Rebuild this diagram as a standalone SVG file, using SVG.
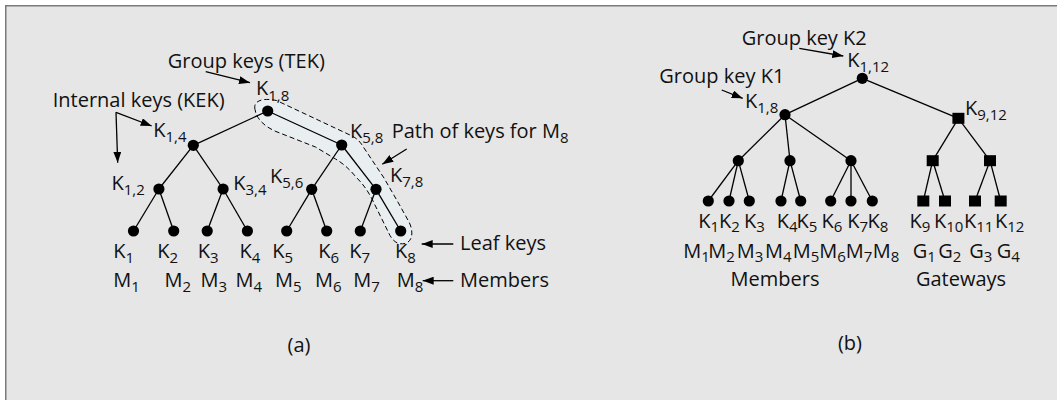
<svg xmlns="http://www.w3.org/2000/svg" width="1057" height="400" viewBox="0 0 1057 400">
<style>
text{font-family:"Open Sans","Noto Sans","Liberation Sans",sans-serif;font-size:20px;fill:#111}
.s{font-size:15px}
.e{stroke:#000;stroke-width:1.3;fill:none}
.a{stroke:#000;stroke-width:1.3;fill:none;marker-end:url(#ah)}
.d{fill:#000}
</style>
<defs>
<marker id="ah" markerWidth="11" markerHeight="8" refX="11" refY="4" orient="auto" markerUnits="userSpaceOnUse"><path d="M0,0 L11,4 L0,8 Z" fill="#000"/></marker>
</defs>
<rect x="0" y="0" width="1057" height="400" fill="#fff"/>
<rect x="5" y="5" width="1052" height="395" fill="#e6e6e6"/>
<path d="M5.75,400 V5.75 H1057" fill="none" stroke="#7a7a7a" stroke-width="1.5"/>

<g id="path-highlight">
<path d="M255,109.5 C253,101 262,97.5 276.5,100.5 L351,135.5 C356.5,138 360,141.5 363,146.5 L384,178 L399,204 L409,222 C413.5,231 413,241.5 405,243.5 C398,245 393.5,241.5 390,235.5 L372.5,200 C367.5,190 362.5,183.5 355.5,176.5 C349.5,169 342.5,163 335.5,159 L315.5,147 L276,131.5 C264.5,126.5 256.5,119 255,109.5 Z" fill="#e9eef1" stroke="#000" stroke-width="1" stroke-dasharray="5,3"/>
</g>

<g id="connectors">
<line class="e" x1="267.7" y1="111" x2="193.3" y2="145.3"/>
<line class="e" x1="267.7" y1="111" x2="341.7" y2="145"/>
<line class="e" x1="193.3" y1="145.3" x2="158.9" y2="189"/>
<line class="e" x1="193.3" y1="145.3" x2="223.1" y2="189"/>
<line class="e" x1="341.7" y1="145" x2="311.7" y2="189.3"/>
<line class="e" x1="341.7" y1="145" x2="376" y2="189.3"/>
<line class="e" x1="158.9" y1="189" x2="133.5" y2="231"/>
<line class="e" x1="158.9" y1="189" x2="173.7" y2="231"/>
<line class="e" x1="223.1" y1="189" x2="207.2" y2="231"/>
<line class="e" x1="223.1" y1="189" x2="247.4" y2="231"/>
<line class="e" x1="311.7" y1="189.3" x2="286.7" y2="231"/>
<line class="e" x1="311.7" y1="189.3" x2="326.7" y2="231"/>
<line class="e" x1="376" y1="189.3" x2="360.3" y2="231"/>
<line class="e" x1="376" y1="189.3" x2="400.7" y2="231"/>

<line class="a" x1="205.7" y1="71.7" x2="250" y2="82.7"/>
<line class="a" x1="116" y1="112.3" x2="151.7" y2="126"/>
<line class="a" x1="116" y1="112.3" x2="117.7" y2="162.7"/>
<line class="a" x1="406.7" y1="149" x2="382.3" y2="164.3"/>
<line class="a" x1="453.3" y1="244" x2="421.7" y2="244"/>
<line class="a" x1="453.3" y1="280.7" x2="422.7" y2="280.7"/>

<line class="e" x1="862.3" y1="78.3" x2="785" y2="114.7"/>
<line class="e" x1="862.3" y1="78.3" x2="958.4" y2="118.3"/>
<line class="e" x1="785" y1="114.7" x2="738.3" y2="160.7"/>
<line class="e" x1="785" y1="114.7" x2="790" y2="160.7"/>
<line class="e" x1="785" y1="114.7" x2="851" y2="160.7"/>
<line class="e" x1="958.4" y1="118.3" x2="932.7" y2="160.7"/>
<line class="e" x1="958.4" y1="118.3" x2="990" y2="160.7"/>
<line class="e" x1="738.3" y1="160.7" x2="708.3" y2="201"/>
<line class="e" x1="738.3" y1="160.7" x2="729" y2="201"/>
<line class="e" x1="738.3" y1="160.7" x2="749.3" y2="201"/>
<line class="e" x1="790" y1="160.7" x2="781" y2="201"/>
<line class="e" x1="790" y1="160.7" x2="800.7" y2="201"/>
<line class="e" x1="851" y1="160.7" x2="830.7" y2="201"/>
<line class="e" x1="851" y1="160.7" x2="851" y2="201"/>
<line class="e" x1="851" y1="160.7" x2="872.3" y2="201"/>
<line class="e" x1="932.7" y1="160.7" x2="923.3" y2="201"/>
<line class="e" x1="932.7" y1="160.7" x2="945" y2="201"/>
<line class="e" x1="990" y1="160.7" x2="975" y2="201"/>
<line class="e" x1="990" y1="160.7" x2="1000.7" y2="201"/>

<line class="a" x1="799.3" y1="48.3" x2="843.3" y2="56"/>
<line class="a" x1="721.7" y1="90" x2="742.7" y2="98.3"/>
</g>

<!-- Panel (a) -->
<g id="a-labels">
<text x="167.7" y="68.3">Group keys (TEK)</text>
<text x="52.7" y="106.7">Internal keys (KEK)</text>
<text x="391.7" y="138.3">Path of keys for M<tspan class="s" dy="5">8</tspan></text>
<text x="460" y="250">Leaf keys</text>
<text x="460" y="286.7">Members</text>
<text x="299" y="351.7" text-anchor="middle">(a)</text>
</g>
<g id="a-k18"><circle class="d" cx="267.7" cy="111" r="5.6"/><text x="256" y="95">K<tspan class="s" dy="6">1,8</tspan></text></g>
<g id="a-k14"><circle class="d" cx="193.3" cy="145.3" r="5.6"/><text x="153.3" y="137.3">K<tspan class="s" dy="5">1,4</tspan></text></g>
<g id="a-k58"><circle class="d" cx="341.7" cy="145" r="5.6"/><text x="350" y="138.3">K<tspan class="s" dy="5">5,8</tspan></text></g>
<g id="a-k12"><circle class="d" cx="158.9" cy="189" r="5.6"/><text x="111.5" y="189.5">K<tspan class="s" dy="5">1,2</tspan></text></g>
<g id="a-k34"><circle class="d" cx="223.1" cy="189" r="5.6"/><text x="233.2" y="190">K<tspan class="s" dy="5">3,4</tspan></text></g>
<g id="a-k56"><circle class="d" cx="311.7" cy="189.3" r="5.6"/><text x="270" y="183.3">K<tspan class="s" dy="5">5,6</tspan></text></g>
<g id="a-k78"><circle class="d" cx="376" cy="189.3" r="5.6"/><text x="390" y="181.7">K<tspan class="s" dy="5">7,8</tspan></text></g>
<g id="a-k1"><circle class="d" cx="133.5" cy="231" r="5.6"/><text x="113.2" y="258.3">K<tspan class="s" dy="5">1</tspan></text><text x="113.2" y="286.7">M<tspan class="s" dy="5">1</tspan></text></g>
<g id="a-k2"><circle class="d" cx="173.7" cy="231" r="5.6"/><text x="157.2" y="258.3">K<tspan class="s" dy="5">2</tspan></text><text x="164.6" y="286.7">M<tspan class="s" dy="5">2</tspan></text></g>
<g id="a-k3"><circle class="d" cx="207.2" cy="231" r="5.6"/><text x="197.7" y="258.3">K<tspan class="s" dy="5">3</tspan></text><text x="200.5" y="286.7">M<tspan class="s" dy="5">3</tspan></text></g>
<g id="a-k4"><circle class="d" cx="247.4" cy="231" r="5.6"/><text x="239.5" y="258.3">K<tspan class="s" dy="5">4</tspan></text><text x="235.6" y="286.7">M<tspan class="s" dy="5">4</tspan></text></g>
<g id="a-k5"><circle class="d" cx="286.7" cy="231" r="5.6"/><text x="272.3" y="258.3">K<tspan class="s" dy="5">5</tspan></text><text x="275" y="286.7">M<tspan class="s" dy="5">5</tspan></text></g>
<g id="a-k6"><circle class="d" cx="326.7" cy="231" r="5.6"/><text x="318.3" y="258.3">K<tspan class="s" dy="5">6</tspan></text><text x="315" y="286.7">M<tspan class="s" dy="5">6</tspan></text></g>
<g id="a-k7"><circle class="d" cx="360.3" cy="231" r="5.6"/><text x="349.3" y="258.3">K<tspan class="s" dy="5">7</tspan></text><text x="353.3" y="286.7">M<tspan class="s" dy="5">7</tspan></text></g>
<g id="a-k8"><circle class="d" cx="400.7" cy="231" r="5.6"/><text x="395" y="258.3">K<tspan class="s" dy="5">8</tspan></text><text x="396.7" y="286.7">M<tspan class="s" dy="5">8</tspan></text></g>

<!-- Panel (b) -->
<g id="b-labels">
<text x="741.7" y="45">Group key K2</text>
<text x="659.3" y="83.3">Group key K1</text>
<text x="775" y="286" text-anchor="middle">Members</text>
<text x="961" y="286" text-anchor="middle">Gateways</text>
<text x="850" y="350" text-anchor="middle">(b)</text>
</g>
<g id="b-k112"><circle class="d" cx="862.3" cy="78.3" r="5.6"/><text x="847.3" y="66.5">K<tspan class="s" dy="5">1,12</tspan></text></g>
<g id="b-k18"><circle class="d" cx="785" cy="114.7" r="5.6"/><text x="745" y="108.3">K<tspan class="s" dy="5">1,8</tspan></text></g>
<g id="b-k912"><rect class="d" x="952.4" y="112.8" width="12" height="11"/><text x="965" y="115">K<tspan class="s" dy="5">9,12</tspan></text></g>
<g id="b-m1"><circle class="d" cx="738.3" cy="160.7" r="5.6"/></g>
<g id="b-m2"><circle class="d" cx="790" cy="160.7" r="5.6"/></g>
<g id="b-m3"><circle class="d" cx="851" cy="160.7" r="5.6"/></g>
<g id="b-g1"><rect class="d" x="926.7" y="155.2" width="12" height="11"/></g>
<g id="b-g2"><rect class="d" x="984" y="155.2" width="12" height="11"/></g>
<g id="b-k1"><circle class="d" cx="708.3" cy="201" r="5.6"/><text x="698.3" y="228.3">K<tspan class="s" dy="4">1</tspan></text><text x="683.3" y="258.3">M<tspan class="s" dy="4">1</tspan></text></g>
<g id="b-k2"><circle class="d" cx="729" cy="201" r="5.6"/><text x="719" y="228.3">K<tspan class="s" dy="4">2</tspan></text><text x="708.3" y="258.3">M<tspan class="s" dy="4">2</tspan></text></g>
<g id="b-k3"><circle class="d" cx="749.3" cy="201" r="5.6"/><text x="744" y="228.3">K<tspan class="s" dy="4">3</tspan></text><text x="736.7" y="258.3">M<tspan class="s" dy="4">3</tspan></text></g>
<g id="b-k4"><circle class="d" cx="781" cy="201" r="5.6"/><text x="776.7" y="228.3">K<tspan class="s" dy="4">4</tspan></text><text x="765" y="258.3">M<tspan class="s" dy="4">4</tspan></text></g>
<g id="b-k5"><circle class="d" cx="800.7" cy="201" r="5.6"/><text x="796.5" y="228.3">K<tspan class="s" dy="4">5</tspan></text><text x="792.7" y="258.3">M<tspan class="s" dy="4">5</tspan></text></g>
<g id="b-k6"><circle class="d" cx="830.7" cy="201" r="5.6"/><text x="821.5" y="228.3">K<tspan class="s" dy="4">6</tspan></text><text x="819.3" y="258.3">M<tspan class="s" dy="4">6</tspan></text></g>
<g id="b-k7"><circle class="d" cx="851" cy="201" r="5.6"/><text x="847.3" y="228.3">K<tspan class="s" dy="4">7</tspan></text><text x="845.8" y="258.3">M<tspan class="s" dy="4">7</tspan></text></g>
<g id="b-k8"><circle class="d" cx="872.3" cy="201" r="5.6"/><text x="867.5" y="228.3">K<tspan class="s" dy="4">8</tspan></text><text x="872.7" y="258.3">M<tspan class="s" dy="4">8</tspan></text></g>
<g id="b-k9"><rect class="d" x="917.3" y="195.5" width="12" height="11"/><text x="909.5" y="228.3">K<tspan class="s" dy="4">9</tspan></text><text x="912.7" y="258.3">G<tspan class="s" dy="4">1</tspan></text></g>
<g id="b-k10"><rect class="d" x="939" y="195.5" width="12" height="11"/><text x="934" y="228.3">K<tspan class="s" dy="4">10</tspan></text><text x="938.3" y="258.3">G<tspan class="s" dy="4">2</tspan></text></g>
<g id="b-k11"><rect class="d" x="969" y="195.5" width="12" height="11"/><text x="964" y="228.3">K<tspan class="s" dy="4">11</tspan></text><text x="969.3" y="258.3">G<tspan class="s" dy="4">3</tspan></text></g>
<g id="b-k12"><rect class="d" x="994.7" y="195.5" width="12" height="11"/><text x="995" y="228.3">K<tspan class="s" dy="4">12</tspan></text><text x="996.7" y="258.3">G<tspan class="s" dy="4">4</tspan></text></g>
</svg>
